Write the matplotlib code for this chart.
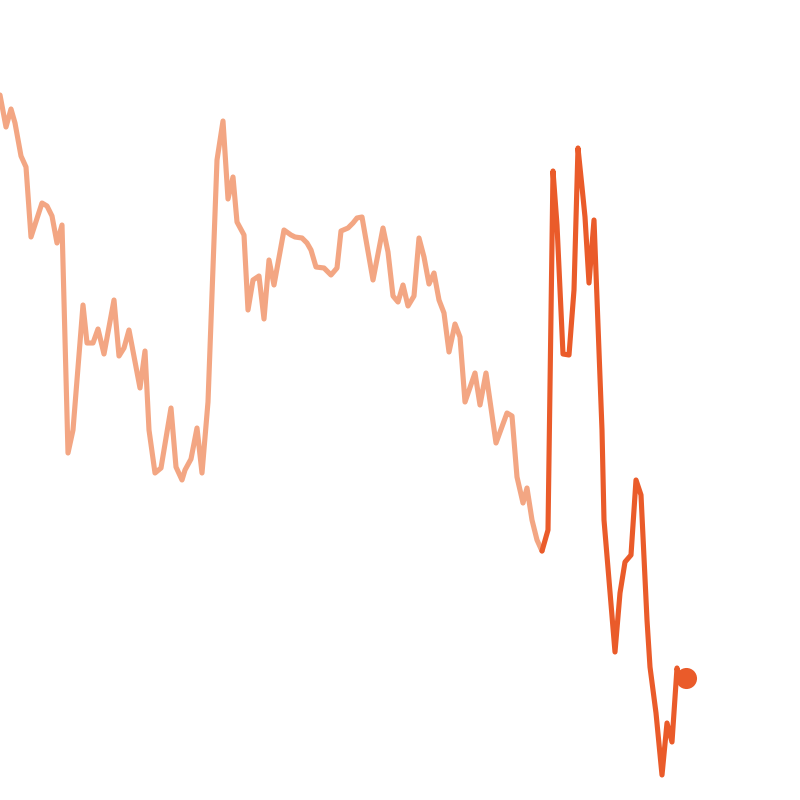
import matplotlib
matplotlib.use("Agg")
import matplotlib.pyplot as plt

# Historical series (light) -- position along time axis and value
hist_x = [0, 6, 11, 15, 21, 26, 31, 42, 47, 52, 57, 62, 68, 73, 83, 87, 93, 98, 104,
          114, 119, 124, 129, 140, 145, 149, 155, 161, 171, 176, 182, 185, 191, 197,
          202, 208, 217, 223, 228, 233, 237, 244, 248, 253, 259, 264, 269, 274, 284,
          291, 295, 302, 307, 311, 316, 324, 331, 337, 341, 348, 353, 357, 362, 373,
          383, 388, 393, 398, 403, 408, 414, 419, 424, 429, 434, 439, 444, 449, 455,
          460, 465, 475, 480, 486, 496, 507, 512, 517, 523, 527, 532, 537, 542]
hist_y = [705, 673, 691, 677, 644, 633, 563, 597, 594, 584, 557, 575, 347, 370, 495,
          457, 457, 471, 446, 500, 444, 452, 470, 412, 449, 370, 327, 332, 392, 333,
          320, 330, 341, 372, 327, 398, 640, 679, 601, 623, 578, 565, 490, 520, 524,
          481, 540, 515, 570, 565, 563, 562, 557, 550, 533, 532, 525, 532, 569, 572,
          577, 582, 583, 520, 572, 548, 504, 498, 515, 494, 504, 562, 543, 516, 527,
          500, 487, 448, 476, 463, 398, 427, 395, 427, 357, 387, 384, 323, 297, 312,
          280, 260, 249]

# Recent series (dark) -- continues from last historical point
recent_x = [542, 548, 553, 557, 563, 569, 574, 578, 582, 585, 589, 594, 602, 604,
            615, 620, 625, 631, 636, 641, 647, 650, 656, 662, 667, 672, 677, 679]
recent_y = [249, 270, 629, 575, 446, 445, 510, 652, 613, 583, 517, 580, 370, 280,
            148, 207, 238, 245, 320, 305, 180, 133, 87, 25, 77, 58, 132, 123]

last_x = [686]
last_y = [122]

fig = plt.figure(figsize=(8, 8), dpi=100)
ax = fig.add_axes([0, 0, 1, 1])
ax.plot(hist_x, hist_y, color="#F3A683", lw=3.7, solid_joinstyle="round",
        solid_capstyle="round")
ax.plot(recent_x, recent_y, color="#EA5B2A", lw=3.7, solid_joinstyle="round",
        solid_capstyle="round")
ax.scatter(last_x, last_y, s=230, color="#EA5B2A", zorder=3, linewidths=0)
ax.set_xlim(0, 800)
ax.set_ylim(0, 800)
ax.axis("off")
fig.savefig("out.png", dpi=100, facecolor="white")
